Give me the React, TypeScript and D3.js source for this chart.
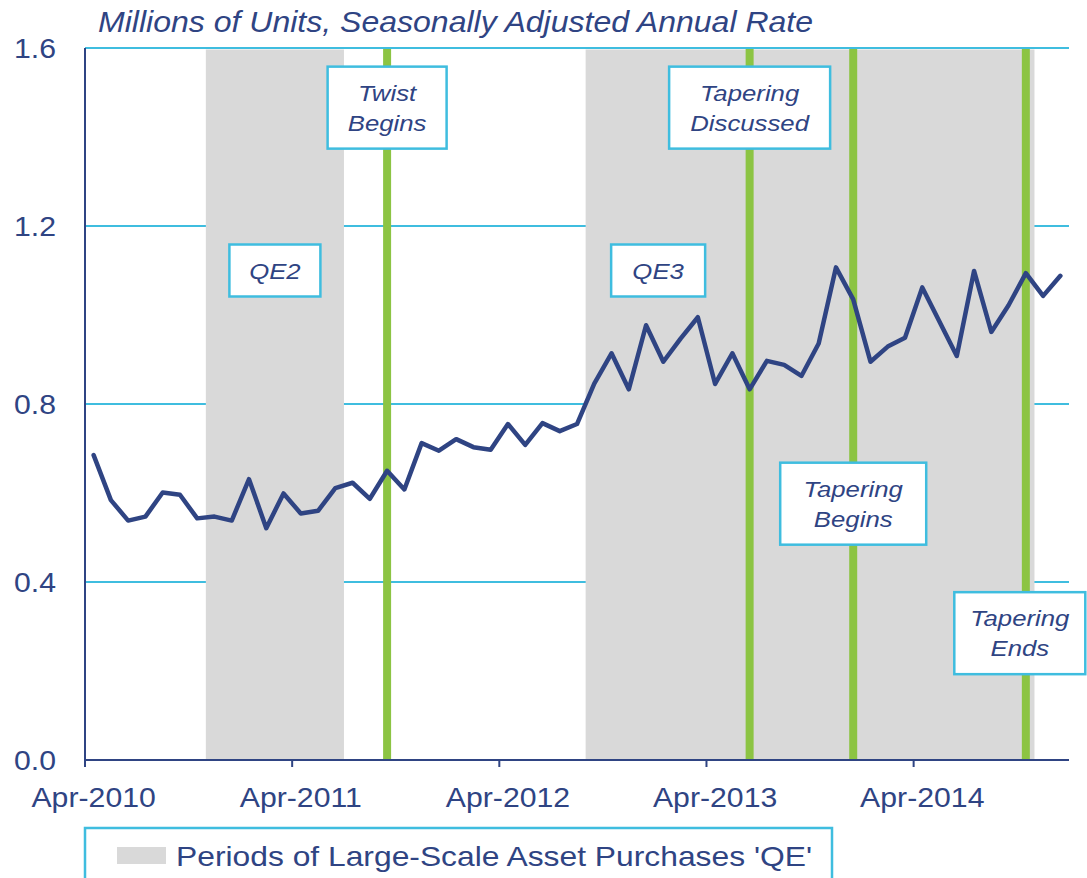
import { useEffect, useRef } from "react";
import * as d3 from "d3";

// Monthly housing starts, Apr-2010 .. Dec-2014 (millions, SAAR)
const months = d3.timeMonth.range(new Date(2010, 3, 1), new Date(2015, 0, 1));
const monthKeys = months.map(d3.timeFormat("%Y-%m"));

const starts = [
  0.685, 0.584, 0.538, 0.547, 0.601, 0.596, 0.543, 0.547, 0.538, 0.631,
  0.521, 0.599, 0.554, 0.56, 0.611, 0.623, 0.587, 0.65, 0.608, 0.712,
  0.695, 0.721, 0.703, 0.697, 0.755, 0.708, 0.757, 0.739, 0.755, 0.846,
  0.914, 0.833, 0.977, 0.895, 0.947, 0.995, 0.845, 0.914, 0.833, 0.897,
  0.888, 0.863, 0.936, 1.107, 1.035, 0.895, 0.929, 0.949, 1.062, 0.985,
  0.908, 1.099, 0.962, 1.022, 1.094, 1.043, 1.088,
];

// QE periods (first month, last month)
const qePeriods = [
  ["2010-11", "2011-06"],
  ["2012-09", "2014-10"],
];

// policy events drawn as green verticals
const events = ["2011-09", "2013-06", "2013-12", "2014-10"];

const yTicks = [0, 0.4, 0.8, 1.2, 1.6];
const labelMonths = ["2010-04", "2011-04", "2012-04", "2013-04", "2014-04"];
const labelText = ["Apr-2010", "Apr-2011", "Apr-2012", "Apr-2013", "Apr-2014"];

const annotations = [
  { text: ["QE2"], month: "2011-02", shift: 0.5, level: 1.1, w: 91 },
  { text: ["QE3"], month: "2012-12", shift: 0.7, level: 1.1, w: 94 },
  { text: ["Twist", "Begins"], month: "2011-09", shift: 0, level: 1.466, w: 119 },
  { text: ["Tapering", "Discussed"], month: "2013-06", shift: 0, level: 1.466, w: 161 },
  { text: ["Tapering", "Begins"], month: "2013-12", shift: 0, level: 0.576, w: 146 },
  { text: ["Tapering", "Ends"], month: "2014-10", shift: -0.35, level: 0.285, w: 131 },
];

const NAVY = "#2F4483";
const CYAN = "#3FBDDF";
const GREY = "#D9D9D9";
const GREEN = "#8CC443";
const FONT = "'Liberation Sans', Arial, sans-serif";
const SX = 1.12; // text in the original is a bit wide

export default function App() {
  const ref = useRef<SVGSVGElement>(null);

  useEffect(() => {
    const svg = d3.select(ref.current);
    svg.selectAll("*").remove();

    const left = 85;
    const right = 1069;
    const x = d3.scaleLinear().domain([-0.5, months.length - 0.5]).range([left, right]);
    const y = d3.scaleLinear().domain([0, 1.6]).range([760, 48]);
    const idx = (k: string) => monthKeys.indexOf(k);

    const addText = (
      g: any,
      px: number,
      py: number,
      str: string,
      size: number,
      anchor = "start",
      italic = false
    ) =>
      g
        .append("text")
        .attr("transform", `translate(${px},${py}) scale(${SX},1)`)
        .attr("text-anchor", anchor)
        .style("font-family", FONT)
        .style("font-size", `${size}px`)
        .style("font-style", italic ? "italic" : "normal")
        .style("fill", NAVY)
        .text(str);

    // gridlines
    svg
      .selectAll(".grid")
      .data(yTicks.slice(1))
      .enter()
      .append("line")
      .attr("x1", left)
      .attr("x2", right)
      .attr("y1", (d) => y(d))
      .attr("y2", (d) => y(d))
      .attr("stroke", CYAN)
      .attr("stroke-width", 2);

    // QE shading
    svg
      .selectAll(".qe")
      .data(qePeriods)
      .enter()
      .append("rect")
      .attr("x", (d) => x(idx(d[0]) - 0.5))
      .attr("width", (d) => x(idx(d[1]) + 0.5) - x(idx(d[0]) - 0.5))
      .attr("y", y(1.6) + 1.5)
      .attr("height", y(0) - y(1.6) - 1.5)
      .attr("fill", GREY);

    // event lines
    svg
      .selectAll(".ev")
      .data(events)
      .enter()
      .append("line")
      .attr("x1", (d) => x(idx(d)))
      .attr("x2", (d) => x(idx(d)))
      .attr("y1", y(1.6) + 1)
      .attr("y2", y(0))
      .attr("stroke", GREEN)
      .attr("stroke-width", 8);

    // axes
    svg
      .append("line")
      .attr("x1", left)
      .attr("x2", left)
      .attr("y1", y(1.6))
      .attr("y2", y(0))
      .attr("stroke", NAVY)
      .attr("stroke-width", 2);
    svg
      .append("line")
      .attr("x1", left - 1)
      .attr("x2", right)
      .attr("y1", y(0))
      .attr("y2", y(0))
      .attr("stroke", NAVY)
      .attr("stroke-width", 2);

    labelMonths.forEach((m, i) => {
      const tx = x(idx(m) - 0.5);
      svg
        .append("line")
        .attr("x1", tx)
        .attr("x2", tx)
        .attr("y1", y(0))
        .attr("y2", y(0) + 7)
        .attr("stroke", NAVY)
        .attr("stroke-width", 2);
      addText(svg, x(idx(m)), 807, labelText[i], 27, "middle");
    });

    yTicks.forEach((t) => {
      addText(svg, 56, y(t) + 9.7, d3.format(".1f")(t), 27, "end");
    });

    // series
    const line = d3
      .line<number>()
      .x((_, i) => x(i))
      .y((d) => y(d));
    svg
      .append("path")
      .datum(starts)
      .attr("d", line)
      .attr("fill", "none")
      .attr("stroke", NAVY)
      .attr("stroke-width", 4.5)
      .attr("stroke-linejoin", "round")
      .attr("stroke-linecap", "round");

    // annotation boxes
    annotations.forEach((a) => {
      const cx = x(idx(a.month) + a.shift);
      const cy = y(a.level);
      const h = a.text.length === 1 ? 52 : 82;
      svg
        .append("rect")
        .attr("x", cx - a.w / 2)
        .attr("y", cy - h / 2)
        .attr("width", a.w)
        .attr("height", h)
        .attr("fill", "white")
        .attr("stroke", CYAN)
        .attr("stroke-width", 2.5);
      a.text.forEach((s, j) => {
        const ly = cy + (j - (a.text.length - 1) / 2) * 30;
        addText(svg, cx, ly + 8.3, s, 23, "middle", true);
      });
    });

    // title
    addText(svg, 98, 32, "Millions of Units, Seasonally Adjusted Annual Rate", 28.6, "start", true);

    // legend
    svg
      .append("rect")
      .attr("x", left)
      .attr("y", 828)
      .attr("width", 832 - left)
      .attr("height", 80)
      .attr("fill", "white")
      .attr("stroke", CYAN)
      .attr("stroke-width", 2.5);
    svg
      .append("rect")
      .attr("x", 117)
      .attr("y", 847)
      .attr("width", 49)
      .attr("height", 17)
      .attr("fill", GREY);
    addText(svg, 176, 866, "Periods of Large-Scale Asset Purchases 'QE'", 28.4);
  }, []);

  return (
    <svg
      ref={ref}
      width={1087}
      height={878}
      style={{ position: "absolute", left: 0, top: 0, background: "white" }}
    />
  );
}
